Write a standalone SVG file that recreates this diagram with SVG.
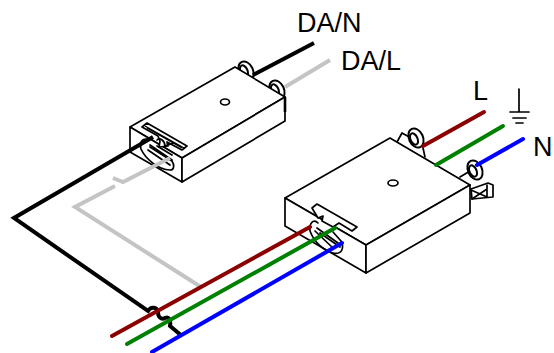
<svg xmlns="http://www.w3.org/2000/svg" width="554" height="353" viewBox="0 0 554 353">
<style>
.o{fill:none;stroke:#000;stroke-width:1.7;stroke-linejoin:round;stroke-linecap:round}
.f{fill:#fff;stroke:#000;stroke-width:1.7;stroke-linejoin:round}
.r{fill:#fff;stroke:#000;stroke-width:2}
.w{fill:none;stroke-width:4;stroke-linejoin:miter}
.k{stroke:#000}.g{stroke:#c4c4c4}.d{stroke:#8b0000}.n{stroke:#008000}.b{stroke:#0000ff}
.c{stroke-linecap:round}
.t{font-family:"Liberation Sans",Arial,sans-serif;font-size:27px;fill:#000}
</style>
<g id="small-box">
<ellipse class="r" cx="246" cy="71" rx="7" ry="10" transform="rotate(-25 246 71)"/>
<ellipse class="r" cx="244" cy="71" rx="3.5" ry="6" transform="rotate(-25 244 71)"/>
<ellipse class="r" cx="277" cy="90" rx="7" ry="10" transform="rotate(-25 277 90)"/>
<ellipse class="r" cx="275" cy="90" rx="3.5" ry="6" transform="rotate(-25 275 90)"/>
<path class="f" d="M130 127L235 67L285 97L182 158Z"/>
<path class="f" d="M130 127L182 158L182 182L130 152Z"/>
<path class="f" d="M182 158L285 97L285 121L182 182Z"/>
<path d="M285 97L285 112" stroke="#000" stroke-width="2.6" fill="none"/>
<ellipse class="o" cx="225" cy="102" rx="4.5" ry="3"/>
<path class="f" d="M142 127L147 123L187 146L182 150L167 142L168 146L159 147L160 141L158 136Z"/>
<path d="M145 126L184 148M147 128L182 148" stroke="#000" stroke-width="1.4" fill="none"/>
<path class="o" d="M146 139C142 139 139 143 141 149C145 158 158 170 170 170C175 170 174 164 172 161L150 147"/>
<path class="o" d="M148 150L170 165M150 145L172 160"/>
<path class="o" d="M157 140C160 137 165 141 165 146L174 143M157 146L172 155"/>
</g>
<g id="large-box">
<path class="o" d="M397 142L402 133L411 138"/>
<ellipse class="r" cx="416" cy="138" rx="7" ry="10" transform="rotate(-25 416 138)"/>
<ellipse class="r" cx="414" cy="139" rx="3.5" ry="6" transform="rotate(-25 414 139)"/>
<path class="o" d="M460 177L470 171"/>
<ellipse class="r" cx="475" cy="170" rx="7" ry="10" transform="rotate(-25 475 170)"/>
<ellipse class="r" cx="473" cy="171" rx="3.5" ry="6" transform="rotate(-25 473 171)"/>
<path class="f" d="M471 189L488 183L493 185L493 197L472 199Z"/>
<path class="o" d="M487 185V197M471 190L487 197M472 199L487 189"/>
<path class="f" d="M285 198L390 138L470 185L366 245Z"/>
<path class="f" d="M285 198L366 245L366 273L285 226Z"/>
<path class="f" d="M366 245L470 185L470 213L366 273Z"/>
<path class="o" d="M423 148L425 157"/>
<ellipse class="o" cx="393" cy="183" rx="5" ry="3"/>
<path class="f" d="M312 208L317 204L357 227L352 231L339 223L333 227L322 221L323 216L318 218Z"/>
<path class="o" d="M318 223C313 218 309 224 310 231C314 242 324 251 333 253C343 255 344 247 341 241L333 232"/>
<path class="o" d="M317 228L338 243M315 231L333 248M320 233L340 247"/>
</g>
<g id="ground">
<path class="o" d="M519 89V112M510 112H529M513 118H526M516 123H523"/>
</g>
<g id="connectors">
<path class="w k" d="M253 75L314 43"/>
<path class="w g" d="M285 87L330 60"/>
<path class="w k" d="M153 137L14 218L148 311C151 306 157 307 158 312C158 317 161 320 165 318C169 316 171 320 170 326L182 336"/>
<path class="w g" d="M170 158L123 182L113 178M115 186L75 207L201 287"/>
<path class="w d c" d="M112 336L310 227"/>
<path class="w n c" d="M127 344L335 228"/>
<path class="w b c" d="M152 352L342 243"/>
<path class="w d c" d="M423 146L484 112"/>
<path class="w n c" d="M436 165L503 126"/>
<path class="w b c" d="M477 165L523 139"/>
</g>
<g id="labels">
<text class="t" x="297" y="32">DA/N</text>
<text class="t" x="341" y="70">DA/L</text>
<text class="t" x="473" y="100">L</text>
<text class="t" x="533" y="156">N</text>
</g>
</svg>
